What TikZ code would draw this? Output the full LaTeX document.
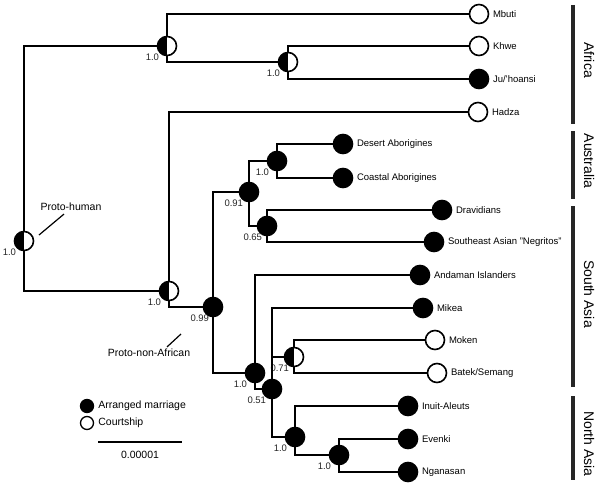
\documentclass[tikz,border=0pt]{standalone}
\usepackage{fontspec}
\setmainfont{Liberation Sans}
\usepackage{tikz}
\usetikzlibrary{positioning, calc}
\tikzset{
	tipnode/.style={
			circle,
			draw=black,
			line width=1.6pt,
			minimum size=19pt,
			inner sep=0pt
		},
	arrnode/.style={
			tipnode,
			fill=black
		},
	courtnode/.style={
			tipnode,
			fill=white
		},
	halfnode/.style={
			tipnode,
			fill=white,
			path picture={\fill[black] (path picture bounding box.north west) rectangle (path picture bounding box.south);}
		},
	support/.style={
			font=\fontsize{9.5}{10}\selectfont,
			text=black!85,
			inner sep=0.5pt
		},
	tiplabel/.style={
			font=\fontsize{9.5}{11}\selectfont,
			label distance=2.5pt,
			inner sep=1pt
		},
	protolabel/.style={
			font=\fontsize{10.5}{12}\selectfont,
			inner sep=1pt
		},
	branch/.style={line width=1.6pt},
	leader/.style={line width=1.2pt},
	regionbar/.style={line width=3.5pt, black!85},
	regiontext/.style={
			font=\fontsize{14}{16}\selectfont,
			rotate=-90
		}
}

\begin{document}
\begin{tikzpicture}[x=1pt, y=-1pt]
\useasboundingbox (0,0) rectangle (599,484);

\node[halfnode, label={[support]below left:1.0}] (root) at (24,241) {};
\node[halfnode, label={[support]below left:1.0}] (africa) at (167,46) {};
\node[halfnode, label={[support]below left:1.0}] (khoisan) at (288,62) {};
\node[halfnode, label={[support]below left:1.0}] (outafrica) at (169,291) {};
\node[arrnode, label={[support, xshift=4pt]below left:0.99}] (nonafr) at (213,307) {};
\node[arrnode, label={[support, xshift=2pt]below left:0.91}] (sahul) at (249,192) {};
\node[arrnode, label={[support]below left:1.0}] (austr) at (277,161) {};
\node[arrnode, label={[support, xshift=3pt]below left:0.65}] (dravsea) at (267,226) {};
\node[arrnode, label={[support]below left:1.0}] (asia) at (255,373) {};
\node[arrnode, label={[support, xshift=2pt]below left:0.51}] (southnorth) at (272,389) {};
\node[halfnode, label={[support, xshift=3pt]below left:0.71}] (sea) at (294,357) {};
\node[arrnode, label={[support]below left:1.0}] (northasia) at (295,437) {};
\node[arrnode, label={[support]below left:1.0}] (siberia) at (339,455) {};

\node[courtnode, label={[tiplabel]right:Mbuti}] (mbuti) at (479,14) {};
\node[courtnode, label={[tiplabel]right:Khwe}] (khwe) at (479,46) {};
\node[arrnode, label={[tiplabel]right:Ju/'hoansi}] (juhoansi) at (479,79) {};
\node[courtnode, label={[tiplabel]right:Hadza}] (hadza) at (478,112) {};
\node[arrnode, label={[tiplabel]right:Desert Aborigines}] (desert) at (343,144) {};
\node[arrnode, label={[tiplabel]right:Coastal Aborigines}] (coastal) at (343,178) {};
\node[arrnode, label={[tiplabel]right:Dravidians}] (dravidians) at (442,210) {};
\node[arrnode, label={[tiplabel]right:Southeast Asian "Negritos"}] (negritos) at (434,242) {};
\node[arrnode, label={[tiplabel]right:Andaman Islanders}] (andaman) at (420,275) {};
\node[arrnode, label={[tiplabel]right:Mikea}] (mikea) at (423,308) {};
\node[courtnode, label={[tiplabel]right:Moken}] (moken) at (435,340) {};
\node[courtnode, label={[tiplabel]right:Batek/Semang}] (batek) at (437,373) {};
\node[arrnode, label={[tiplabel]right:Inuit-Aleuts}] (inuit) at (408,406) {};
\node[arrnode, label={[tiplabel]right:Evenki}] (evenki) at (408,439) {};
\node[arrnode, label={[tiplabel]right:Nganasan}] (nganasan) at (408,472) {};

\draw[branch] (root) |- (africa);
\draw[branch] (root) |- (outafrica);
\draw[branch] (africa) |- (mbuti);
\draw[branch] (africa) |- (khoisan);
\draw[branch] (khoisan) |- (khwe);
\draw[branch] (khoisan) |- (juhoansi);
\draw[branch] (outafrica) |- (hadza);
\draw[branch] (outafrica) |- (nonafr);
\draw[branch] (nonafr) |- (sahul);
\draw[branch] (nonafr) |- (asia);
\draw[branch] (sahul) |- (austr);
\draw[branch] (sahul) |- (dravsea);
\draw[branch] (austr) |- (desert);
\draw[branch] (austr) |- (coastal);
\draw[branch] (dravsea) |- (dravidians);
\draw[branch] (dravsea) |- (negritos);
\draw[branch] (asia) |- (andaman);
\draw[branch] (asia) |- (southnorth);
\draw[branch] (southnorth) |- (mikea);
\draw[branch] (southnorth) |- (sea);
\draw[branch] (southnorth) |- (northasia);
\draw[branch] (sea) |- (moken);
\draw[branch] (sea) |- (batek);
\draw[branch] (northasia) |- (inuit);
\draw[branch] (northasia) |- (siberia);
\draw[branch] (siberia) |- (evenki);
\draw[branch] (siberia) |- (nganasan);

\node[protolabel] (protohuman) at (71,207) {Proto-human};
\draw[leader] ($(root)+(15,-6)$) -- ($(protohuman.south)+(-7,2)$);
\node[protolabel] (protononafr) at (149,353) {Proto-non-African};
\draw[leader] ($(protononafr.north)+(18,-1)$) -- ($(nonafr)+(-32,27)$);

\draw[regionbar] (573,5) -- (573,124);
\draw[regionbar] (573,131) -- (573,199);
\draw[regionbar] (573,206) -- (573,387);
\draw[regionbar] (573,396) -- (573,480);
\node[regiontext] (africalbl) at (589,60) {Africa};
\node[regiontext] (australialbl) at (589,161) {Australia};
\node[regiontext] (southasialbl) at (589,294) {South Asia};
\node[regiontext] (northasialbl) at (589,444) {North Asia};

\node[arrnode, minimum size=13pt, line width=1.3pt] (legarr) at (87,406) {};
\node[courtnode, minimum size=13pt, line width=1.3pt] (legcourt) at (87,423) {};
\node[protolabel, right=3pt of legarr] (legarrtext) {Arranged marriage};
\node[protolabel, right=3pt of legcourt] (legcourttext) {Courtship};

\coordinate (sbleft) at (98,442);
\coordinate (sbright) at (182,442);
\draw[line width=2pt] (sbleft) -- (sbright);
\node[protolabel] (sblabel) at (140,455) {0.00001};

\end{tikzpicture}
\end{document}
